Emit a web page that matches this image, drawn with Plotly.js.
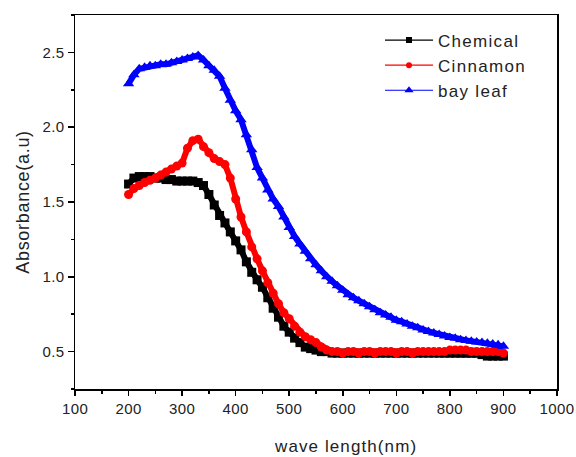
<!DOCTYPE html>
<html>
<head>
<meta charset="utf-8">
<script src="https://cdn.plot.ly/plotly-3.0.1.min.js"></script>
<style>
html,body{margin:0;padding:0;background:#fff;}
#chart{width:576px;height:457px;}
.legendtext{letter-spacing:1.3px;}
.xtick text,.ytick text{letter-spacing:0.4px;}
.annotation-text{letter-spacing:1.1px;}
.ytitle{letter-spacing:0.7px;}
</style>
</head>
<body>
<div id="chart"></div>
<script>
const wavelength = [200,210,220,230,240,250,260,270,280,290,300,310,320,330,340,350,360,370,380,390,400,410,420,430,440,450,460,470,480,490,500,510,520,530,540,550,560,570,580,590,600,610,620,630,640,650,660,670,680,690,700,710,720,730,740,750,760,770,780,790,800,810,820,830,840,850,860,870,880,890,900];

const chemical = [1.62,1.66,1.67,1.67,1.67,1.66,1.66,1.65,1.65,1.64,1.64,1.64,1.64,1.63,1.61,1.55,1.48,1.41,1.36,1.30,1.24,1.18,1.10,1.03,0.98,0.93,0.86,0.79,0.73,0.67,0.63,0.59,0.56,0.53,0.52,0.51,0.50,0.50,0.49,0.49,0.49,0.49,0.49,0.49,0.49,0.49,0.49,0.49,0.49,0.49,0.49,0.49,0.49,0.49,0.49,0.49,0.49,0.49,0.49,0.49,0.49,0.49,0.49,0.49,0.49,0.49,0.48,0.47,0.47,0.47,0.47];

const cinnamon = [1.55,1.59,1.61,1.63,1.645,1.66,1.68,1.70,1.72,1.74,1.76,1.86,1.91,1.92,1.87,1.83,1.79,1.77,1.75,1.66,1.52,1.40,1.30,1.20,1.12,1.04,0.96,0.89,0.82,0.76,0.72,0.67,0.63,0.60,0.58,0.56,0.53,0.51,0.50,0.50,0.49,0.50,0.50,0.49,0.50,0.50,0.49,0.50,0.50,0.50,0.49,0.50,0.50,0.49,0.50,0.50,0.50,0.50,0.50,0.50,0.51,0.51,0.51,0.51,0.50,0.50,0.50,0.50,0.50,0.50,0.49];

const bayLeaf = [2.29,2.35,2.39,2.40,2.41,2.41,2.42,2.42,2.43,2.44,2.45,2.46,2.47,2.48,2.45,2.41,2.38,2.34,2.26,2.18,2.11,2.05,1.95,1.85,1.73,1.66,1.58,1.52,1.47,1.40,1.33,1.27,1.22,1.17,1.12,1.08,1.04,1.00,0.97,0.94,0.91,0.88,0.86,0.84,0.82,0.80,0.78,0.76,0.745,0.73,0.71,0.70,0.685,0.67,0.66,0.645,0.635,0.625,0.615,0.605,0.595,0.59,0.58,0.575,0.57,0.565,0.56,0.555,0.55,0.545,0.535];

const seriesNames = ["Chemical","Cinnamon","bay leaf"];
const seriesColors = ["#000000","#ff0000","#0000ff"];
const seriesSymbols = ["square","circle","triangle-up"];
const xTickVals = [100,200,300,400,500,600,700,800,900,1000];
const yTickVals = [0.5,1.0,1.5,2.0,2.5];
const yTickText = ["0.5","1.0","1.5","2.0","2.5"];

const font = "Arial, 'Liberation Sans', sans-serif";
const seriesY = [chemical, cinnamon, bayLeaf];

const traces = [];
seriesY.forEach((ys, i) => {
  traces.push({x: wavelength, y: ys, name: seriesNames[i], mode: "lines+markers", type: "scatter",
    showlegend: false,
    line: {color: seriesColors[i], width: 6},
    marker: {symbol: seriesSymbols[i], size: i === 2 ? 10 : 9, color: seriesColors[i]}});
});
// legend entries (thin line + small marker, as in the original)
seriesY.forEach((ys, i) => {
  traces.push({x: [null], y: [null], name: seriesNames[i], mode: "lines+markers", type: "scatter",
    showlegend: true,
    line: {color: seriesColors[i], width: 1.2},
    marker: {symbol: seriesSymbols[i], size: i === 2 ? 8 : 6, color: seriesColors[i]}});
});

const layout = {
  width: 576, height: 457,
  margin: {l: 75, r: 19, t: 15, b: 68, pad: 0},
  paper_bgcolor: "#ffffff", plot_bgcolor: "#ffffff",
  font: {family: font, color: "#222222", size: 15},
  showlegend: true,
  legend: {x: (380-75)/482, y: 0.98, xanchor: "left", yanchor: "top", bgcolor: "rgba(0,0,0,0)",
           font: {family: font, size: 17, color: "#222222"}, tracegroupgap: 0, itemwidth: 48},
  xaxis: {range: [100, 1000], tickvals: xTickVals, ticks: "outside", ticklen: 5, tickwidth: 1.5,
          tickcolor: "#000", showline: true, linecolor: "#000", linewidth: 1.5, mirror: true,
          showgrid: false, zeroline: false, tickfont: {size: 15, family: font, color: "#222"},
          minor: {dtick: 50, ticks: "outside", ticklen: 3, tickwidth: 1.5, tickcolor: "#000", showgrid: false}},
  yaxis: {range: [0.25, 2.75], tickvals: yTickVals, ticktext: yTickText, ticks: "outside", ticklen: 6, tickwidth: 1.5,
          tickcolor: "#000", showline: true, linecolor: "#000", linewidth: 1.5, mirror: true,
          showgrid: false, zeroline: false, tickfont: {size: 15, family: font, color: "#222"},
          title: {text: "Absorbance(a.u)", font: {size: 18, family: font, color: "#222"}, standoff: 8},
          minor: {dtick: 0.25, ticks: "outside", ticklen: 3, tickwidth: 1.5, tickcolor: "#000", showgrid: false}},
  annotations: [{text: "wave length(nm)", xref: "paper", yref: "paper", x: (345.5-75)/482, y: (389-446)/374,
                 xanchor: "center", yanchor: "middle", showarrow: false,
                 font: {size: 17, family: font, color: "#222"}}]
};

Plotly.newPlot("chart", traces, layout, {displayModeBar: false, staticPlot: true});
</script>
</body>
</html>
